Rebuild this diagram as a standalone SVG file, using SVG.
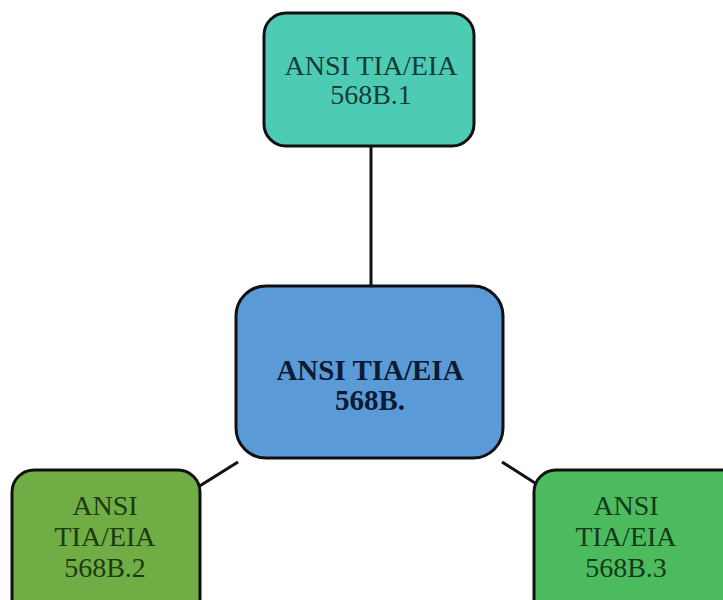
<svg xmlns="http://www.w3.org/2000/svg" width="723" height="600" viewBox="0 0 723 600">
<style>
.box{stroke:#111;stroke-width:3}
.t{font-family:"Liberation Serif","Times New Roman",serif;font-size:28px;text-anchor:middle}
.b{font-size:29px;font-weight:bold}
.c{stroke:#111;stroke-width:3;fill:none}
</style>
<rect width="723" height="600" fill="#fff"/>
<g id="connectors">
<line class="c" x1="371" y1="146" x2="371" y2="286"/>
<line class="c" x1="198" y1="487" x2="238" y2="462"/>
<line class="c" x1="502" y1="462" x2="535" y2="483"/>
</g>
<g id="node-top">
<rect class="box" x="264" y="13" width="210" height="133" rx="22" fill="#4ecbb5"/>
<text class="t" x="371" y="75" fill="#163c34">ANSI TIA/EIA</text>
<text class="t" x="371" y="104" fill="#163c34">568B.1</text>
</g>
<g id="node-center">
<rect class="box" x="236" y="286" width="267" height="172" rx="30" fill="#5a9ad6"/>
<text class="t b" x="370" y="380" fill="#0c1a33">ANSI TIA/EIA</text>
<text class="t b" x="370" y="410" fill="#0c1a33">568B.</text>
</g>
<g id="node-left">
<rect class="box" x="12" y="470" width="188" height="150" rx="22" fill="#70ad45"/>
<text class="t" x="105" y="515" fill="#1d3a12">ANSI</text>
<text class="t" x="105" y="546" fill="#1d3a12">TIA/EIA</text>
<text class="t" x="105" y="577" fill="#1d3a12">568B.2</text>
</g>
<g id="node-right">
<rect class="box" x="534" y="470" width="210" height="150" rx="22" fill="#4cbb5e"/>
<text class="t" x="626" y="515" fill="#143a1c">ANSI</text>
<text class="t" x="626" y="546" fill="#143a1c">TIA/EIA</text>
<text class="t" x="626" y="577" fill="#143a1c">568B.3</text>
</g>
</svg>
